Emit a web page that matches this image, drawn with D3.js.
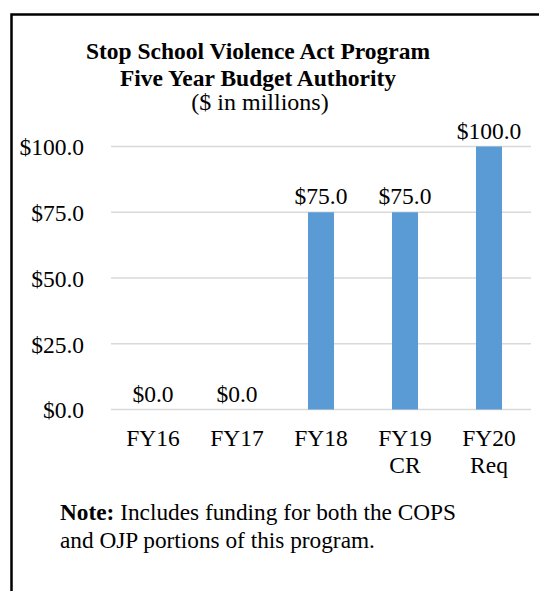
<!DOCTYPE html>
<html><head><meta charset="utf-8">
<script src="https://cdn.jsdelivr.net/npm/d3@7"></script>
<style>body{margin:0;background:#fff}svg{display:block}text{font-family:"Liberation Serif","Times New Roman",serif;fill:#000}</style>
</head><body>
<script>
const categories = [["FY16"],["FY17"],["FY18"],["FY19","CR"],["FY20","Req"]];
const values = [0, 0, 75, 75, 100];
const yTicks = [0, 25, 50, 75, 100];
const titleLines = ["Stop School Violence Act Program","Five Year Budget Authority"];
const subtitle = "($ in millions)";
const noteLines = [["Note:"," Includes funding for both the COPS"],["","and OJP portions of this program."]];

const W=539,H=591;
const svg=d3.select("body").append("svg").attr("width",W).attr("height",H);
// frame
svg.append("rect").attr("x",11.5).attr("y",14.5).attr("width",W+20).attr("height",H+20)
  .attr("fill","none").attr("stroke","#000").attr("stroke-width",2.5);

const ids=categories.map((c,i)=>i);
const x=d3.scaleBand().domain(ids).range([111,531]).paddingInner(0.69).paddingOuter(0.345);
const y=d3.scaleLinear().domain([0,100]).range([409.5,146.5]);
const fmt=v=>"$"+d3.format(".1f")(v);

// gridlines
svg.append("g").selectAll("line").data(yTicks).join("line")
  .attr("x1",111).attr("x2",531).attr("y1",d=>y(d)).attr("y2",d=>y(d))
  .attr("stroke","#D9D9D9").attr("stroke-width",1.5);

// y axis labels
const yAxis=d3.axisLeft(y).tickValues(yTicks).tickFormat(fmt).tickSize(0).tickPadding(0);
const ga=svg.append("g").attr("transform","translate(84,0)").call(yAxis);
ga.select(".domain").remove();
ga.selectAll("text").attr("font-size",23.5).attr("font-family","Liberation Serif").attr("fill","#000").attr("dy","0.36em");

// bars
svg.append("g").selectAll("rect").data(values).join("rect")
  .attr("x",(d,i)=>x(i)).attr("width",x.bandwidth())
  .attr("y",d=>y(d)).attr("height",d=>y(0)-y(d)).attr("fill","#5B9BD5");

// data labels
svg.append("g").selectAll("text").data(values).join("text")
  .attr("x",(d,i)=>x(i)+x.bandwidth()/2).attr("y",d=>y(d)-8)
  .attr("text-anchor","middle").attr("font-size",23.5).text(d=>fmt(d));

// x labels
const gx=svg.append("g");
categories.forEach((lines,i)=>{
  const t=gx.append("text").attr("x",x(i)+x.bandwidth()/2).attr("y",446)
    .attr("text-anchor","middle").attr("font-size",23.5);
  lines.forEach((l,j)=>t.append("tspan").attr("x",x(i)+x.bandwidth()/2).attr("dy",j?27:0).text(l));
});

// title
titleLines.forEach((l,i)=>svg.append("text").attr("x",258).attr("y",59+i*27)
  .attr("text-anchor","middle").attr("font-size",23.5).attr("font-weight","bold").text(l));
svg.append("text").attr("x",260).attr("y",110).attr("text-anchor","middle").attr("font-size",24).text(subtitle);

// note
noteLines.forEach((l,i)=>{
  const t=svg.append("text").attr("x",60).attr("y",520+i*28).attr("font-size",23.3);
  if(l[0]) t.append("tspan").attr("font-weight","bold").text(l[0]);
  t.append("tspan").text(l[1]);
});
</script>
</body></html>
